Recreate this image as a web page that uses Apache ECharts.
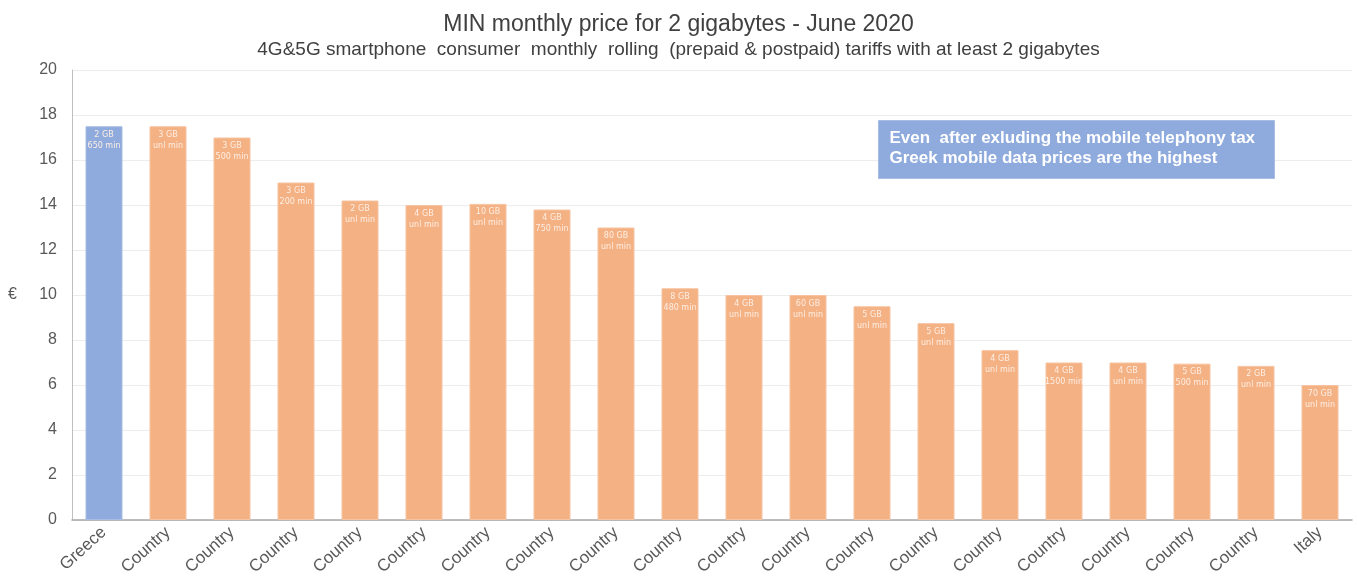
<!DOCTYPE html>
<html>
<head>
<meta charset="utf-8">
<title>MIN monthly price for 2 gigabytes</title>
<script src="https://cdn.jsdelivr.net/npm/echarts@6/dist/echarts.min.js"></script>
<style>
  html, body { margin: 0; padding: 0; background: #fff; }
  #chart { width: 1357px; height: 587px; }
</style>
</head>
<body>
<div id="chart"></div>
<script>
// categories and prices (EUR)
var countries = ['Greece', 'Country', 'Country', 'Country', 'Country', 'Country', 'Country',
  'Country', 'Country', 'Country', 'Country', 'Country', 'Country', 'Country', 'Country',
  'Country', 'Country', 'Country', 'Country', 'Italy'];
var prices = [17.5, 17.5, 17.0, 15.0, 14.2, 14.0, 14.05, 13.8, 13.0, 10.3, 10.0, 10.0,
  9.5, 8.75, 7.55, 7.0, 7.0, 6.95, 6.85, 6.0];
var dataVolume = ['2 GB', '3 GB', '3 GB', '3 GB', '2 GB', '4 GB', '10 GB', '4 GB', '80 GB',
  '8 GB', '4 GB', '60 GB', '5 GB', '5 GB', '4 GB', '4 GB', '4 GB', '5 GB', '2 GB', '70 GB'];
var minutes = ['650 min', 'unl min', '500 min', '200 min', 'unl min', 'unl min', 'unl min',
  '750 min', 'unl min', '480 min', 'unl min', 'unl min', 'unl min', 'unl min', 'unl min',
  '1500 min', 'unl min', '500 min', 'unl min', 'unl min'];
var yTicks = [0, 20, 2]; // min, max, interval

var myChart = echarts.init(document.getElementById('chart'));

var barData = prices.map(function (v, i) {
  var greek = countries[i] === 'Greece';
  return {
    value: v,
    itemStyle: {
      color: greek ? '#8faadc' : '#f4b183',
      borderColor: greek ? '#a9bde4' : '#f7c3a0',
      borderWidth: 1
    }
  };
});

var option = {
  backgroundColor: '#fff',
  animation: false,
  title: {
    text: 'MIN monthly price for 2 gigabytes - June 2020',
    subtext: '4G&5G smartphone  consumer  monthly  rolling  (prepaid & postpaid) tariffs with at least 2 gigabytes',
    left: 'center',
    top: 8,
    itemGap: 4,
    textStyle: {
      fontFamily: 'Liberation Sans',
      fontSize: 23,
      fontWeight: 'normal',
      color: '#404040'
    },
    subtextStyle: {
      fontFamily: 'Liberation Sans',
      fontSize: 19,
      color: '#404040'
    }
  },
  grid: {
    left: 72,
    right: 5,
    top: 70,
    bottom: 67
  },
  xAxis: {
    type: 'category',
    data: countries,
    axisLine: { lineStyle: { color: '#a6a6a6', width: 1.5 } },
    axisTick: { show: false },
    axisLabel: {
      rotate: 42,
      interval: 0,
      margin: 10,
      fontFamily: 'Liberation Sans',
      fontSize: 17,
      color: '#595959'
    }
  },
  yAxis: {
    type: 'value',
    min: yTicks[0],
    max: yTicks[1],
    interval: yTicks[2],
    name: '€',
    nameLocation: 'middle',
    nameRotate: 0,
    nameGap: 55,
    nameTextStyle: {
      fontFamily: 'Liberation Sans',
      fontSize: 16,
      color: '#595959'
    },
    axisLine: { show: true, lineStyle: { color: '#bfbfbf' } },
    axisTick: { show: false },
    splitLine: { lineStyle: { color: '#ececec' } },
    axisLabel: {
      margin: 15,
      fontFamily: 'Liberation Sans',
      fontSize: 16,
      color: '#595959'
    }
  },
  series: [
    {
      name: 'price',
      type: 'bar',
      data: barData,
      barWidth: 37,
      label: {
        show: true,
        position: 'insideTop',
        distance: 3,
        formatter: function (p) {
          return dataVolume[p.dataIndex] + '\n' + minutes[p.dataIndex];
        },
        fontFamily: 'DejaVu Sans',
        fontSize: 8,
        lineHeight: 11,
        color: '#fdeee4'
      }
    }
  ],
  graphic: [
    {
      type: 'group',
      left: 878,
      top: 120,
      z: 100,
      children: [
        {
          type: 'rect',
          z: 100,
          shape: { x: 0, y: 0, width: 396, height: 58 },
          style: { fill: '#8faadc', stroke: '#a9bde4', lineWidth: 1 }
        },
        {
          type: 'text',
          z: 101,
          x: 11,
          y: 8,
          style: {
            text: 'Even  after exluding the mobile telephony tax\nGreek mobile data prices are the highest',
            fill: '#ffffff',
            font: 'bold 17px "Liberation Sans"',
            lineHeight: 20
          }
        }
      ]
    }
  ]
};

myChart.setOption(option);
</script>
</body>
</html>
